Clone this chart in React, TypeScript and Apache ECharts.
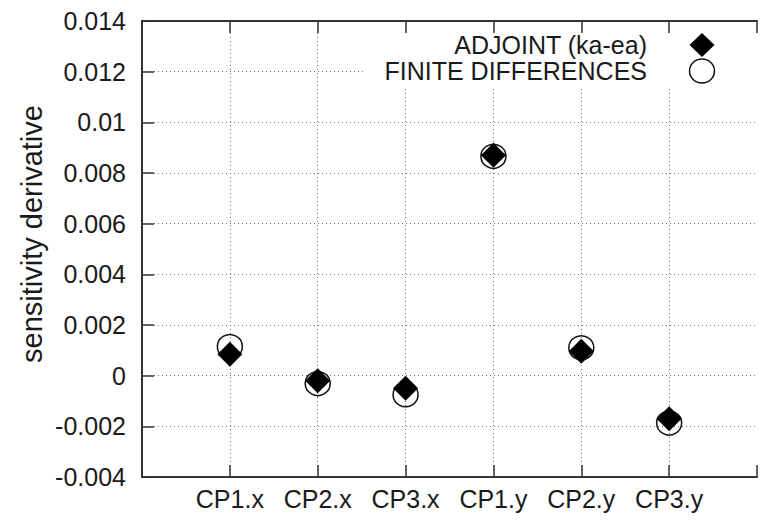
import React, { useEffect, useRef } from "react";
import * as echarts from "echarts";

// Design variables, in the order they appear along the x axis
const categories = ["CP1.x", "CP2.x", "CP3.x", "CP1.y", "CP2.y", "CP3.y"];

// Sensitivity derivatives from the adjoint solver (ka-ea)
const adjoint = [0.00085, -0.0002, -0.0005, 0.0087, 0.00096, -0.0017];

// Sensitivity derivatives from finite differences
const finiteDifferences = [0.00115, -0.00031, -0.00075, 0.00866, 0.0011, -0.00187];

const yMin = -0.004;
const yMax = 0.014;
const yStep = 0.002;

const FONT = "'Liberation Sans', Arial, Helvetica, sans-serif";
const INK = "#1a1a1a";
const FRAME = "#333333";
const GRID = "#6e6e6e";

const fmtY = (v: number) => String(parseFloat(v.toFixed(6)));

export default function App() {
  const ref = useRef<HTMLDivElement>(null);

  useEffect(() => {
    if (!ref.current) return;
    const chart = echarts.init(ref.current, undefined, { renderer: "svg" });

    const gridLine = () => ({
      show: true,
      showMinLine: false,
      showMaxLine: false,
      lineStyle: { color: GRID, width: 1, type: [1, 3], opacity: 1 },
    });

    const frameLine = { show: true, onZero: false, lineStyle: { color: FRAME, width: 2 } };
    const tick = { show: true, inside: true, length: 12, lineStyle: { color: FRAME, width: 1.5 } };

    chart.setOption({
      animation: false,
      backgroundColor: "#ffffff",
      grid: { left: 142, top: 21, width: 629, height: 456, containLabel: false },
      xAxis: [
        {
          type: "value",
          position: "bottom",
          min: 0,
          max: categories.length + 1,
          interval: 1,
          axisLine: frameLine,
          axisTick: tick,
          axisLabel: {
            show: true,
            margin: 9,
            fontFamily: FONT,
            fontSize: 25,
            color: INK,
            formatter: (v: number) => categories[v - 1] ?? "",
          },
          splitLine: gridLine(),
        },
        {
          type: "value",
          position: "top",
          min: 0,
          max: categories.length + 1,
          interval: 1,
          axisLine: frameLine,
          axisTick: tick,
          axisLabel: { show: false },
          splitLine: { show: false },
        },
      ],
      yAxis: {
        type: "value",
        min: yMin,
        max: yMax,
        interval: yStep,
        axisLine: frameLine,
        axisTick: tick,
        axisLabel: {
          margin: 16,
          fontFamily: FONT,
          fontSize: 25,
          color: INK,
          formatter: (v: number) => fmtY(v),
        },
        splitLine: gridLine(),
      },
      series: [
        {
          name: "FINITE DIFFERENCES",
          type: "scatter",
          xAxisIndex: 0,
          symbol: "circle",
          symbolSize: [25, 24],
          itemStyle: {
            color: "rgba(255,255,255,0)",
            borderColor: "#111111",
            borderWidth: 1.5,
            opacity: 1,
          },
          data: finiteDifferences.map((v, i) => [i + 1, v]),
          z: 3,
        },
        {
          name: "ADJOINT (ka-ea)",
          type: "scatter",
          xAxisIndex: 0,
          symbol: "diamond",
          symbolSize: [25, 25],
          itemStyle: { color: "#000000", opacity: 1 },
          data: adjoint.map((v, i) => [i + 1, v]),
          z: 4,
        },
      ],
      graphic: [
        {
          type: "text",
          x: 32,
          y: 234,
          rotation: Math.PI / 2,
          z: 60,
          style: {
            text: "sensitivity derivative",
            font: `29px ${FONT}`,
            fill: INK,
            textAlign: "center",
            textVerticalAlign: "middle",
          },
        },
        {
          type: "rect",
          z: 50,
          shape: { x: 366, y: 33, width: 392, height: 53 },
          style: { fill: "#ffffff" },
        },
        {
          type: "text",
          z: 51,
          x: 647,
          y: 45,
          style: {
            text: "ADJOINT (ka-ea)",
            font: `25px ${FONT}`,
            fill: INK,
            textAlign: "right",
            textVerticalAlign: "middle",
          },
        },
        {
          type: "text",
          z: 51,
          x: 647,
          y: 71,
          style: {
            text: "FINITE DIFFERENCES",
            font: `25px ${FONT}`,
            fill: INK,
            textAlign: "right",
            textVerticalAlign: "middle",
          },
        },
        {
          type: "polygon",
          z: 51,
          shape: {
            points: [
              [702, 33],
              [714.5, 45],
              [702, 57],
              [689.5, 45],
            ],
          },
          style: { fill: "#000000" },
        },
        {
          type: "ellipse",
          z: 51,
          shape: { cx: 702, cy: 71, rx: 12.5, ry: 12 },
          style: { fill: "none", stroke: "#111111", lineWidth: 1.5 },
        },
      ],
    });

    return () => chart.dispose();
  }, []);

  return (
    <div
      ref={ref}
      style={{ position: "fixed", left: 0, top: 0, width: 760, height: 526, background: "#fff" }}
    />
  );
}
